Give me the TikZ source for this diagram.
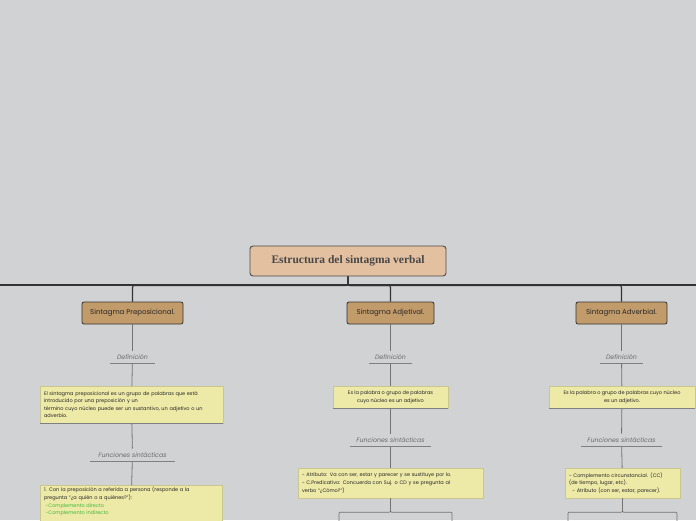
\documentclass[tikz,border=0pt]{standalone}
\usepackage{fontspec}
\setmainfont{Poppins}
\newfontfamily\titlefont{Liberation Serif}
\usepackage{tikz}
\usetikzlibrary{positioning}
\usepackage{xcolor}
\definecolor{bgcol}{HTML}{D1D2D4}
\definecolor{rootfill}{HTML}{E3C1A0}
\definecolor{subfill}{HTML}{C29B6B}
\definecolor{notefill}{HTML}{EDE9A7}
\definecolor{inkgray}{HTML}{6A6A6A}
\definecolor{compgreen}{HTML}{3DB83D}

\begin{document}
\begin{tikzpicture}[
  x=1pt, y=-1pt,
  every node/.style={align=center, text=black!85},
  root/.style={draw=black!70, line width=0.9pt, rounded corners=3pt, fill=rootfill,
               minimum width=196pt, minimum height=30pt, inner sep=0pt,
               font=\titlefont\bfseries\fontsize{11.5}{13}\selectfont, text=black!72},
  sub/.style={draw=black!80, line width=0.8pt, rounded corners=2pt, fill=subfill,
              minimum height=22pt, inner sep=0pt, font=\fontsize{7}{8}\selectfont},
  heading/.style={anchor=south, inner xsep=0pt, inner ysep=3.5pt, text=inkgray,
                  font=\itshape\fontsize{6.3}{7}\selectfont},
  note/.style={fill=notefill, draw=notefill!85!black, line width=0.3pt,
               inner xsep=4pt, inner ysep=3pt, font=\fontsize{5}{7.6}\selectfont},
  trunk/.style={draw=black!80, line width=1.1pt, rounded corners=2pt},
  link/.style={draw=black!55, line width=0.8pt, rounded corners=1pt},
  rule/.style={draw=black!50, line width=0.8pt}
]
\useasboundingbox (0,0) rectangle (696,520);
\clip (0,0) rectangle (696,520);
\fill[bgcol] (0,0) rectangle (696,520);

\node[root] (root) at (348,261) {Estructura del sintagma verbal};
\node[sub, minimum width=101pt] (prep) at (132.5,313) {Sintagma Preposicional.};
\node[sub, minimum width=87pt] (adj) at (390.5,313) {Sintagma Adjetival.};
\node[sub, minimum width=91pt] (adv) at (621.5,313) {Sintagma Adverbial.};

\coordinate (lend) at (-10,285);
\coordinate (rend) at (706,285);
\draw[trunk] (lend) -- (rend);
\draw[trunk] (root.south) -- ++(0,9) -| (prep.north);
\draw[trunk] (root.south) -- ++(0,9) -| (adj.north);
\draw[trunk] (root.south) -- ++(0,9) -| (adv.north);

% preposicional
\node[heading, minimum width=44pt] (pdef) at (132.5,363) {Definición};
\node[note, text width=175pt, align=left, minimum height=37pt] (pdefnote) at (131.5,404.5)
  {El sintagma preposicional es un grupo de palabras que está\\
   introducido por una preposición y un\\
   término cuyo núcleo puede ser un sustantivo, un adjetivo o un\\
   adverbio.};
\node[heading, minimum width=84pt] (pfun) at (132.5,461) {Funciones sintácticas};
\node[note, text width=174pt, align=left, anchor=north, inner ysep=2pt,
      font=\fontsize{5}{7.6}\selectfont] (pfunnote) at (131,485)
  {1. Con la preposición a referida a persona (responde a la\\
   pregunta “¿a quién o a quiénes?”):\\
   \textcolor{compgreen}{\ -Complemento directo}\\
   \textcolor{compgreen}{\ -Complemento indirecto}\\
   \rule{0pt}{10pt}};

\draw[link] (prep) -- (pdef);
\draw[link] (pdef) -- (pdefnote);
\draw[link] (pdefnote) -- (pfun);
\draw[link] (pfun) -- (pfunnote);
\draw[rule] (pdef.south west) -- (pdef.south east);
\draw[rule] (pdefnote.south west) -- (pdefnote.south east);
\draw[rule] (pfun.south west) -- (pfun.south east);

% adjetival
\node[heading, minimum width=43pt] (adef) at (390.5,363) {Definición};
\node[note, minimum width=115pt, minimum height=22pt] (adefnote) at (390.5,397)
  {Es la palabra o grupo de palabras\\ cuyo núcleo es un adjetivo};
\node[heading, minimum width=81pt] (afun) at (390.5,446) {Funciones sintácticas};
\node[note, text width=177pt, align=left, minimum height=30pt] (afunnote) at (390.5,483)
  {- Atributo: Va con ser, estar y parecer y se sustituye por lo.\\
   - C.Predicativo: Concuerda con Suj. o CD y se pregunta al\\
   verbo “¿Cómo?”)};
\coordinate (aleft) at (339,540);
\coordinate (aright) at (452,540);

\draw[link] (adj) -- (adef);
\draw[link] (adef) -- (adefnote);
\draw[link] (adefnote) -- (afun);
\draw[link] (afun) -- (afunnote);
\draw[link] (afunnote.south) -- ++(0,14) -| (aleft);
\draw[link] (afunnote.south) -- ++(0,14) -| (aright);
\draw[rule] (adef.south west) -- (adef.south east);
\draw[rule] (adefnote.south west) -- (adefnote.south east);
\draw[rule] (afun.south west) -- (afun.south east);

% adverbial
\node[heading, minimum width=43pt] (vdef) at (621.5,363) {Definición};
\node[note, minimum width=146pt, minimum height=22pt] (vdefnote) at (622,397)
  {Es la palabra o grupo de palabras cuyo núcleo\\ es un adjetivo.};
\node[heading, minimum width=80pt] (vfun) at (621.5,446) {Funciones sintácticas};
\node[note, text width=107pt, align=left, minimum height=30pt] (vfunnote) at (622.5,483)
  {- Complemento circunstancial. (CC)\\
   (de tiempo, lugar, etc).\\
   \ \ - Atributo (con ser, estar, parecer).};
\coordinate (vleft) at (568,540);
\coordinate (vright) at (677,540);

\draw[link] (adv) -- (vdef);
\draw[link] (vdef) -- (vdefnote);
\draw[link] (vdefnote) -- (vfun);
\draw[link] (vfun) -- (vfunnote);
\draw[link] (vfunnote.south) -- ++(0,14) -| (vleft);
\draw[link] (vfunnote.south) -- ++(0,14) -| (vright);
\draw[rule] (vdef.south west) -- (vdef.south east);
\draw[rule] (vdefnote.south west) -- (vdefnote.south east);
\draw[rule] (vfun.south west) -- (vfun.south east);
\end{tikzpicture}
\end{document}
